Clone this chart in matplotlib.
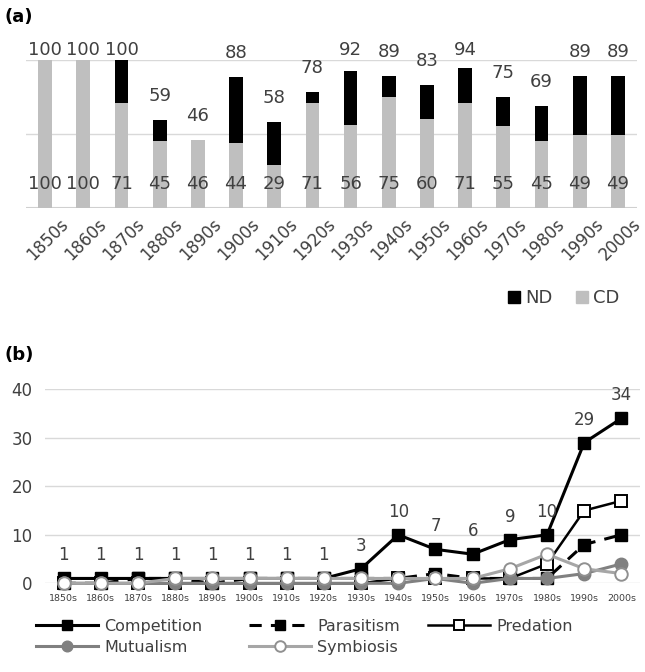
import matplotlib
matplotlib.use("Agg")
import matplotlib.pyplot as plt
from matplotlib.lines import Line2D
import matplotlib.transforms as mtrans
import numpy as np

plt.rcParams['font.family'] = ['DejaVu Sans']

decades = ['1850s', '1860s', '1870s', '1880s', '1890s', '1900s', '1910s', '1920s',
           '1930s', '1940s', '1950s', '1960s', '1970s', '1980s', '1990s', '2000s']

# Panel (a)
cd_values = [100, 100, 71, 45, 46, 44, 29, 71, 56, 75, 60, 71, 55, 45, 49, 49]
total_values = [100, 100, 100, 59, 46, 88, 58, 78, 92, 89, 83, 94, 75, 69, 89, 89]
nd_values = [t - c for t, c in zip(total_values, cd_values)]

# Panel (b)
competition = [1, 1, 1, 1, 1, 1, 1, 1, 3, 10, 7, 6, 9, 10, 29, 34]
parasitism = [0, 0, 1, 1, 0, 1, 1, 1, 1, 1, 2, 1, 1, 1, 8, 10]
predation = [0, 0, 0, 0, 0, 0, 0, 0, 0, 1, 1, 1, 1, 4, 15, 17]
mutualism = [0, 0, 0, 0, 0, 0, 0, 0, 0, 0, 1, 0, 1, 1, 2, 4]
symbiosis = [0, 0, 0, 1, 1, 1, 1, 1, 1, 1, 1, 1, 3, 6, 3, 2]

W, H = 645, 672
fig = plt.figure(figsize=(W / 100, H / 100), dpi=100)

def frac_box(l, t, r, b):
    return [l / W, 1 - b / H, (r - l) / W, (b - t) / H]

txt = '#404040'
grid_c = '#d9d9d9'
gray_bar = '#bfbfbf'

# ---------------- Panel (a)
ax1 = fig.add_axes(frac_box(26, 59.5, 637, 208))
x = np.arange(len(decades))
ax1.bar(x, cd_values, width=0.36, color=gray_bar, zorder=2)
ax1.bar(x, nd_values, bottom=cd_values, width=0.36, color='black', zorder=2)
ax1.set_xlim(-0.5, len(decades) - 0.5)
ax1.set_ylim(0, 100)
for yv in [50, 100]:
    ax1.axhline(yv, color=grid_c, lw=1, zorder=1)
ax1.axhline(0, color='#d0d0d0', lw=1.5, zorder=1)
for s in ax1.spines.values():
    s.set_visible(False)
ax1.set_yticks([])
ax1.set_xticks(x)
ax1.set_xticklabels(decades, rotation=45, ha='right', va='top',
                    rotation_mode='anchor', fontsize=12, color=txt)
ax1.tick_params(axis='x', length=0, pad=5)
shift = mtrans.ScaledTranslation(14 / 100, 0, fig.dpi_scale_trans)
for lab in ax1.get_xticklabels():
    lab.set_transform(lab.get_transform() + shift)

px_per_unit = (208 - 59.5) / 100
for i, (t, c) in enumerate(zip(total_values, cd_values)):
    ytop = min(t + 24 / px_per_unit, (208 - 50) / px_per_unit)
    ax1.text(i, ytop, str(t), ha='center', va='center', fontsize=13, color=txt, clip_on=False)
    ax1.text(i, (208 - 184) / px_per_unit, str(c), ha='center', va='center',
             fontsize=13, color=txt, zorder=3)

leg_a = [Line2D([], [], ls='none', marker='s', ms=8, color='black', label='ND'),
         Line2D([], [], ls='none', marker='s', ms=8, color=gray_bar, label='CD')]
fig.legend(handles=leg_a, loc='center', bbox_to_anchor=(564 / W, 1 - 298 / H), ncol=2,
           frameon=False, fontsize=13, handlelength=0.6, handletextpad=0.35,
           columnspacing=1.3, labelcolor=txt)

fig.text(5 / W, 1 - 17 / H, '(a)', fontsize=13, fontweight='bold', va='center', ha='left')
fig.text(5 / W, 1 - 355 / H, '(b)', fontsize=13, fontweight='bold', va='center', ha='left')

# ---------------- Panel (b)
ax2 = fig.add_axes(frac_box(45, 389.3, 640, 583.3))
ax2.set_xlim(-0.5, 15.5)
ax2.set_ylim(0, 40)
ax2.set_yticks([0, 10, 20, 30, 40])
ax2.yaxis.grid(True, color=grid_c, lw=1, zorder=0)
ax2.set_axisbelow(True)
for s in ax2.spines.values():
    s.set_visible(False)
ax2.tick_params(axis='y', length=0, labelsize=12, labelcolor=txt, pad=9)
ax2.set_xticks(x)
ax2.set_xticklabels(decades, fontsize=6.8, color=txt)
ax2.tick_params(axis='x', length=0, pad=8)

lw = 2.2
ms = 9
h_comp, = ax2.plot(x, competition, color='black', lw=lw, marker='s', ms=ms,
                   mfc='black', mec='black', label='Competition', zorder=3, clip_on=False)
h_par, = ax2.plot(x, parasitism, color='black', lw=lw, ls=(0, (4, 3)), marker='s', ms=ms,
                  mfc='black', mec='black', label='Parasitism', zorder=4, clip_on=False)
h_pred, = ax2.plot(x, predation, color='black', lw=1.8, marker='s', ms=ms,
                   mfc='white', mec='black', mew=1.4, label='Predation', zorder=5, clip_on=False)
h_mut, = ax2.plot(x, mutualism, color='#808080', lw=lw, marker='o', ms=ms,
                  mfc='#808080', mec='#808080', label='Mutualism', zorder=6, clip_on=False)
h_sym, = ax2.plot(x, symbiosis, color='#a6a6a6', lw=lw, marker='o', ms=ms,
                  mfc='white', mec='#909090', mew=1.4, label='Symbiosis', zorder=7, clip_on=False)

ppu = (583.3 - 389.3) / 40
for i, v in enumerate(competition):
    ax2.text(i, v + 23 / ppu, str(v), ha='center', va='center', fontsize=12, color=txt)

cols = [([h_comp, h_mut], 36), ([h_par, h_sym], 249), ([h_pred], 428)]
for hs, xpx in cols:
    fig.legend(handles=hs, loc='upper left', bbox_to_anchor=(xpx / W, 1 - 619 / H),
               frameon=False, fontsize=11.5, handlelength=3.9, handletextpad=0.35,
               labelspacing=0.35, borderpad=0, borderaxespad=0, labelcolor=txt,
               markerscale=0.85)

fig.savefig('out.png', dpi=100)
